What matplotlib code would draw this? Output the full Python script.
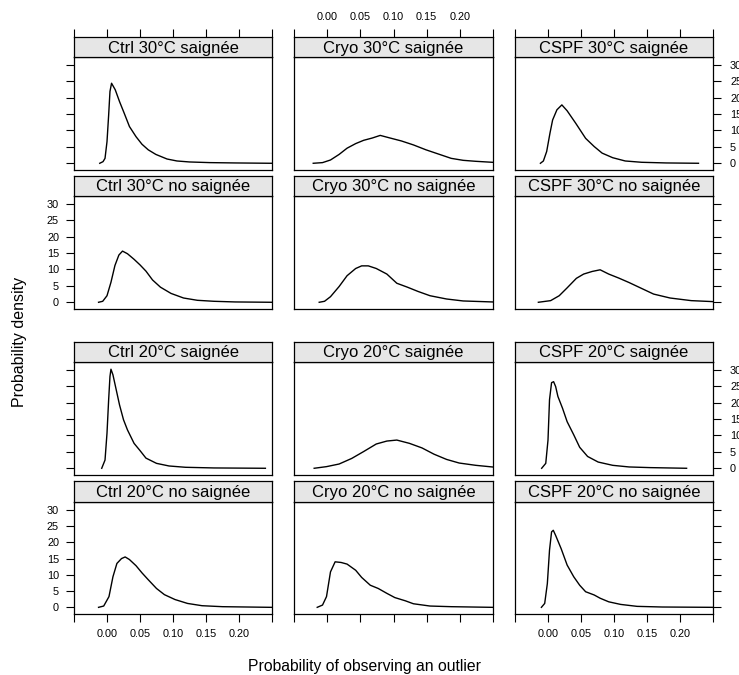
import matplotlib
matplotlib.use("Agg")
import matplotlib.pyplot as plt

plt.rcParams['font.family'] = ['Liberation Sans', 'DejaVu Sans']

# --- density curves (x = probability, y = density) ---
ctrl30_sai_x = [-0.011, -0.006, -0.003, 0.000, 0.0025, 0.0045, 0.0069, 0.0125, 0.019, 0.026, 0.034,
                0.044, 0.053, 0.0625, 0.074, 0.091, 0.106, 0.125, 0.156, 0.194, 0.249]
ctrl30_sai_y = [0.0, 0.5, 1.5, 6.6, 14.7, 21.9, 24.4, 22.4, 18.8, 15.3, 11.2,
                8.1, 5.8, 4.1, 2.7, 1.3, 0.7, 0.4, 0.2, 0.1, 0.0]

cryo30_sai_x = [-0.021, -0.007, 0.005, 0.018, 0.030, 0.043, 0.055, 0.068, 0.080, 0.093, 0.112,
                0.130, 0.149, 0.168, 0.187, 0.205, 0.224, 0.249]
cryo30_sai_y = [0.0, 0.2, 1.0, 2.7, 4.6, 6.0, 7.0, 7.7, 8.5, 7.8, 6.8,
                5.6, 4.1, 2.8, 1.5, 0.9, 0.6, 0.3]

cspf30_sai_x = [-0.0115, -0.007, -0.002, 0.003, 0.007, 0.0135, 0.021, 0.029, 0.042, 0.057, 0.070,
                0.082, 0.098, 0.117, 0.142, 0.179, 0.228]
cspf30_sai_y = [0.0, 0.7, 3.6, 9.2, 13.2, 16.3, 17.8, 16.0, 12.2, 7.6, 5.1,
                3.1, 1.7, 0.7, 0.3, 0.1, 0.0]

ctrl30_no_x = [-0.0128, -0.0065, 0.000, 0.006, 0.012, 0.018, 0.0235, 0.031, 0.041, 0.050, 0.059,
               0.069, 0.081, 0.097, 0.116, 0.137, 0.162, 0.194, 0.249]
ctrl30_no_y = [0.0, 0.3, 2.0, 6.1, 11.2, 14.4, 15.6, 14.8, 13.1, 11.4, 9.5,
               6.8, 4.6, 2.7, 1.3, 0.6, 0.3, 0.1, 0.0]

cryo30_no_x = [-0.012, -0.004, 0.005, 0.018, 0.030, 0.043, 0.052, 0.062, 0.074, 0.090, 0.105,
               0.121, 0.137, 0.155, 0.180, 0.205, 0.249]
cryo30_no_y = [0.0, 0.3, 1.7, 4.8, 8.1, 10.3, 11.1, 11.1, 10.3, 8.6, 5.8,
               4.6, 3.3, 2.0, 1.0, 0.4, 0.1]

cspf30_no_x = [-0.0146, 0.004, 0.017, 0.029, 0.043, 0.054, 0.067, 0.079, 0.092, 0.107, 0.123,
               0.142, 0.160, 0.185, 0.217, 0.250]
cspf30_no_y = [0.0, 0.5, 2.0, 4.4, 7.3, 8.6, 9.4, 9.9, 8.6, 7.4, 6.0,
               4.2, 2.5, 1.3, 0.5, 0.2]

ctrl20_sai_x = [-0.008, -0.003, 0.000, 0.0025, 0.0045, 0.006, 0.009, 0.014, 0.019, 0.025, 0.031,
                0.041, 0.050, 0.059, 0.075, 0.094, 0.119, 0.162, 0.240]
ctrl20_sai_y = [0.0, 2.5, 10.7, 20.9, 28.0, 30.2, 28.5, 23.9, 19.3, 14.8, 11.7,
                7.6, 5.4, 3.1, 1.5, 0.7, 0.3, 0.1, 0.0]

cryo20_sai_x = [-0.0196, -0.001, 0.018, 0.037, 0.055, 0.074, 0.090, 0.105, 0.124, 0.143, 0.161,
                0.180, 0.199, 0.224, 0.249]
cryo20_sai_y = [0.0, 0.5, 1.3, 3.0, 5.1, 7.4, 8.3, 8.6, 7.6, 6.2, 4.3,
                2.7, 1.6, 0.9, 0.4]

cspf20_sai_x = [-0.0096, -0.0034, 0.000, 0.0023, 0.0054, 0.0085, 0.0116, 0.015, 0.022, 0.029, 0.039,
                0.048, 0.060, 0.076, 0.098, 0.123, 0.155, 0.210]
cspf20_sai_y = [0.0, 1.5, 8.6, 20.9, 26.1, 26.4, 24.9, 21.9, 18.3, 14.2, 10.2,
                6.4, 3.6, 1.9, 0.9, 0.4, 0.2, 0.0]

ctrl20_no_x = [-0.0128, -0.005, 0.003, 0.009, 0.015, 0.022, 0.0275, 0.034, 0.044, 0.053, 0.062,
               0.075, 0.087, 0.103, 0.122, 0.144, 0.175, 0.249]
ctrl20_no_y = [0.0, 0.4, 3.3, 9.4, 13.5, 15.0, 15.5, 14.7, 12.8, 10.6, 8.6,
               5.8, 3.9, 2.4, 1.2, 0.5, 0.2, 0.0]

cryo20_no_x = [-0.015, -0.007, -0.001, 0.005, 0.012, 0.021, 0.030, 0.043, 0.052, 0.065, 0.077,
               0.090, 0.102, 0.118, 0.130, 0.155, 0.187, 0.249]
cryo20_no_y = [0.0, 0.7, 3.3, 10.9, 14.0, 13.8, 13.3, 11.4, 9.2, 6.8, 5.8,
               4.3, 3.0, 2.0, 1.1, 0.4, 0.2, 0.0]

cspf20_no_x = [-0.010, -0.005, -0.001, 0.0023, 0.0054, 0.008, 0.0116, 0.020, 0.029, 0.039, 0.048,
               0.057, 0.070, 0.079, 0.092, 0.110, 0.135, 0.173, 0.250]
cspf20_no_y = [0.0, 1.2, 7.3, 17.6, 23.2, 23.7, 22.1, 18.0, 13.0, 9.4, 6.8,
               4.8, 3.8, 2.8, 1.7, 0.9, 0.3, 0.1, 0.0]

# panel titles, row by row (top to bottom), columns left to right
titles = [
    ["Ctrl 30°C saignée", "Cryo 30°C saignée", "CSPF 30°C saignée"],
    ["Ctrl 30°C no saignée", "Cryo 30°C no saignée", "CSPF 30°C no saignée"],
    ["Ctrl 20°C saignée", "Cryo 20°C saignée", "CSPF 20°C saignée"],
    ["Ctrl 20°C no saignée", "Cryo 20°C no saignée", "CSPF 20°C no saignée"],
]
curves = [
    [(ctrl30_sai_x, ctrl30_sai_y), (cryo30_sai_x, cryo30_sai_y), (cspf30_sai_x, cspf30_sai_y)],
    [(ctrl30_no_x, ctrl30_no_y), (cryo30_no_x, cryo30_no_y), (cspf30_no_x, cspf30_no_y)],
    [(ctrl20_sai_x, ctrl20_sai_y), (cryo20_sai_x, cryo20_sai_y), (cspf20_sai_x, cspf20_sai_y)],
    [(ctrl20_no_x, ctrl20_no_y), (cryo20_no_x, cryo20_no_y), (cspf20_no_x, cspf20_no_y)],
]

x_ticks = [-0.05, 0.0, 0.05, 0.10, 0.15, 0.20, 0.25]
x_labels = ["", "0.00", "0.05", "0.10", "0.15", "0.20", ""]
y_ticks = [0, 5, 10, 15, 20, 25, 30]
y_labels = ["0", "5", "10", "15", "20", "25", "30"]

# --- layout in pixels ---
W, H = 739, 675
col_px = [(74, 272), (294, 493), (515, 713)]
row_px = [(37, 57, 170), (176, 196, 309), (342, 362, 475), (481, 502, 614)]  # strip top, panel top, bottom

STRIP_BG = "#e6e6e6"
TICK_LEN = 5.8
TICK_FS = 7.8


def fig_box(x0, y0, x1, y1):
    return [x0 / W, 1 - y1 / H, (x1 - x0) / W, (y1 - y0) / H]


def style_spines(ax):
    for s in ax.spines.values():
        s.set_linewidth(0.9)
        s.set_color("black")


fig = plt.figure(figsize=(W / 100, H / 100), dpi=100)

for r, (s_top, p_top, p_bot) in enumerate(row_px):
    for c, (x0, x1) in enumerate(col_px):
        ax = fig.add_axes(fig_box(x0, p_top, x1, p_bot))
        xs, ys = curves[r][c]
        ax.plot(xs, ys, color="black", lw=1.0)
        ax.set_xlim(-0.05, 0.25)
        ax.set_ylim(-2.05, 32.4)
        style_spines(ax)

        ax.set_xticks(x_ticks)
        ax.set_yticks(y_ticks)
        ax.tick_params(direction="out", length=TICK_LEN, width=0.8, labelsize=TICK_FS, pad=5)
        ax.tick_params(axis="y", which="both", labelright=(c == 2 and r in (0, 2)))
        ax.tick_params(top=False, labeltop=False,
                       bottom=(r == 3), labelbottom=(r == 3 and c != 1),
                       left=(c == 0), labelleft=(c == 0 and r in (1, 3)),
                       right=(c == 2))
        if c == 2:
            ax.yaxis.set_tick_params(which="major", pad=6.5)
        ax.set_xticklabels(x_labels)
        ax.set_yticklabels(y_labels)

        sax = fig.add_axes(fig_box(x0, s_top, x1, p_top))
        sax.set_facecolor(STRIP_BG)
        sax.set_xlim(-0.05, 0.25)
        sax.set_yticks([])
        style_spines(sax)
        sax.set_xticks(x_ticks)
        sax.set_xticklabels(x_labels)
        sax.tick_params(direction="out", length=TICK_LEN, width=0.8, labelsize=TICK_FS, pad=5,
                        bottom=False, labelbottom=False,
                        top=(r == 0), labeltop=(r == 0 and c == 1))
        sax.text(0.5, 0.45, titles[r][c], transform=sax.transAxes,
                 ha="center", va="center", fontsize=12)

fig.text(365 / W, 1 - 667 / H, "Probability of observing an outlier",
         ha="center", va="center", fontsize=11.3)
fig.text(20 / W, 1 - 342 / H, "Probability density", rotation=90,
         ha="center", va="center", fontsize=11.5)

fig.savefig("out.png", dpi=100)
